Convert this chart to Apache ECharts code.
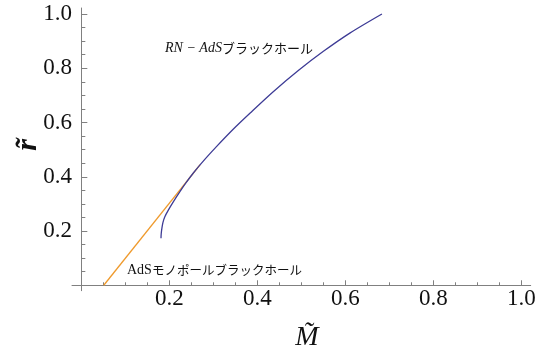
<!DOCTYPE html>
<html>
<head>
<meta charset="utf-8">
<script src="https://cdn.jsdelivr.net/npm/echarts@6/dist/echarts.min.js"></script>
<style>html,body{margin:0;padding:0;background:#fff;}#c{width:541px;height:360px;}</style>
</head>
<body>
<div id="c"></div>
<script>
// RN-AdS black hole curve (M~, r~)
const rnMass   = [0.181, 0.1815, 0.183, 0.1855, 0.1895, 0.198, 0.210, 0.224, 0.238, 0.254, 0.280, 0.307, 0.345, 0.383, 0.436, 0.493, 0.550, 0.610, 0.683];
const rnRadius = [0.173, 0.190, 0.210, 0.232, 0.252, 0.278, 0.310, 0.345, 0.378, 0.413, 0.463, 0.511, 0.575, 0.634, 0.7135, 0.7916, 0.8623, 0.9295, 1.000];
// AdS monopole black hole line
const monoMass   = [0.051, 0.270];
const monoRadius = [0.000, 0.445];
// tick labels
const majorTicks = [0.2, 0.4, 0.6, 0.8, 1.0];
const minorTicks = [0.05, 0.1, 0.15, 0.25, 0.3, 0.35, 0.45, 0.5, 0.55, 0.65, 0.7, 0.75, 0.85, 0.9, 0.95];
const xTitle = 'M\u0303';
const yTitle = 'r\u0303';
const rnLabelItalic = 'RN \u2212 AdS';
const rnLabelKana = 'ブラックホール';
const monoLabelLatin = 'AdS';
const monoLabelKana = 'モノポールブラックホール';

const X_MIN = -0.0212, X_MAX = 1.021, Y_MIN = -0.02, Y_MAX = 1.022;
const axisColor = '#808080';

function zip(a, b) { return a.map((v, i) => [v, b[i]]); }

function labelCfg(margin) {
  return {
    show: true, customValues: majorTicks, margin: margin,
    formatter: v => Number(v).toFixed(1),
    fontFamily: 'Liberation Serif', fontSize: 23, color: '#111'
  };
}

const chart = echarts.init(document.getElementById('c'), null, {renderer: 'canvas'});
chart.setOption({
  animation: false,
  backgroundColor: '#fff',
  textStyle: {fontFamily: 'Liberation Serif'},
  grid: {left: 72, right: 10.3, top: 8, bottom: 69.3, containLabel: false},
  xAxis: [
    {
      type: 'value', min: X_MIN, max: X_MAX, position: 'bottom',
      axisLine: {show: true, onZero: true, lineStyle: {color: axisColor, width: 1}},
      axisTick: {show: true, inside: true, length: 5, customValues: majorTicks, lineStyle: {color: axisColor}},
      axisLabel: labelCfg(-3),
      splitLine: {show: false}
    },
    {
      type: 'value', min: X_MIN, max: X_MAX, position: 'bottom',
      axisLine: {show: false, onZero: true, onZeroAxisIndex: 0},
      axisTick: {show: true, inside: true, length: 3, customValues: minorTicks, lineStyle: {color: axisColor}},
      axisLabel: {show: false},
      splitLine: {show: false}
    }
  ],
  yAxis: [
    {
      type: 'value', min: Y_MIN, max: Y_MAX, position: 'left',
      axisLine: {show: true, onZero: true, lineStyle: {color: axisColor, width: 1}},
      axisTick: {show: true, inside: true, length: 6, customValues: majorTicks, lineStyle: {color: axisColor}},
      axisLabel: labelCfg(0),
      splitLine: {show: false}
    },
    {
      type: 'value', min: Y_MIN, max: Y_MAX, position: 'left',
      axisLine: {show: false, onZero: true, onZeroAxisIndex: 0},
      axisTick: {show: true, inside: true, length: 4, customValues: minorTicks, lineStyle: {color: axisColor}},
      axisLabel: {show: false},
      splitLine: {show: false}
    }
  ],
  series: [
    {
      type: 'line', xAxisIndex: 0, yAxisIndex: 0, data: zip(monoMass, monoRadius),
      symbol: 'none', lineStyle: {color: '#ef9a2c', width: 1.3}, z: 2
    },
    {
      type: 'line', xAxisIndex: 0, yAxisIndex: 0, data: zip(rnMass, rnRadius),
      symbol: 'none', smooth: 0.3, lineStyle: {color: '#3e3c96', width: 1.3}, z: 3
    }
  ],
  graphic: [
    {
      type: 'text', left: 165, top: 41, z: 10,
      style: {
        text: '{i|' + rnLabelItalic + '}{k|' + rnLabelKana + '}',
        rich: {
          i: {fontFamily: 'Liberation Serif', fontStyle: 'italic', fontSize: 14, fill: '#111'},
          k: {fontFamily: 'Noto Sans CJK JP', fontSize: 13, fill: '#111'}
        }
      }
    },
    {
      type: 'text', left: 127, top: 263, z: 10,
      style: {
        text: '{i|' + monoLabelLatin + '}{k|' + monoLabelKana + '}',
        rich: {
          i: {fontFamily: 'Liberation Serif', fontSize: 14, fill: '#111'},
          k: {fontFamily: 'Noto Sans CJK JP', fontSize: 12.5, fill: '#111'}
        }
      }
    },
    {
      type: 'text', x: 307, y: 338, z: 10,
      style: {
        text: xTitle, align: 'center', verticalAlign: 'middle',
        fontFamily: 'Liberation Serif', fontStyle: 'italic', fontSize: 28, fill: '#111'
      }
    },
    {
      type: 'text', x: 28, y: 145, rotation: Math.PI / 2, z: 10,
      style: {
        text: yTitle, align: 'center', verticalAlign: 'middle',
        fontFamily: 'Liberation Serif', fontStyle: 'italic', fontWeight: 'bold', fontSize: 30, fill: '#111'
      }
    }
  ]
});
</script>
</body>
</html>
